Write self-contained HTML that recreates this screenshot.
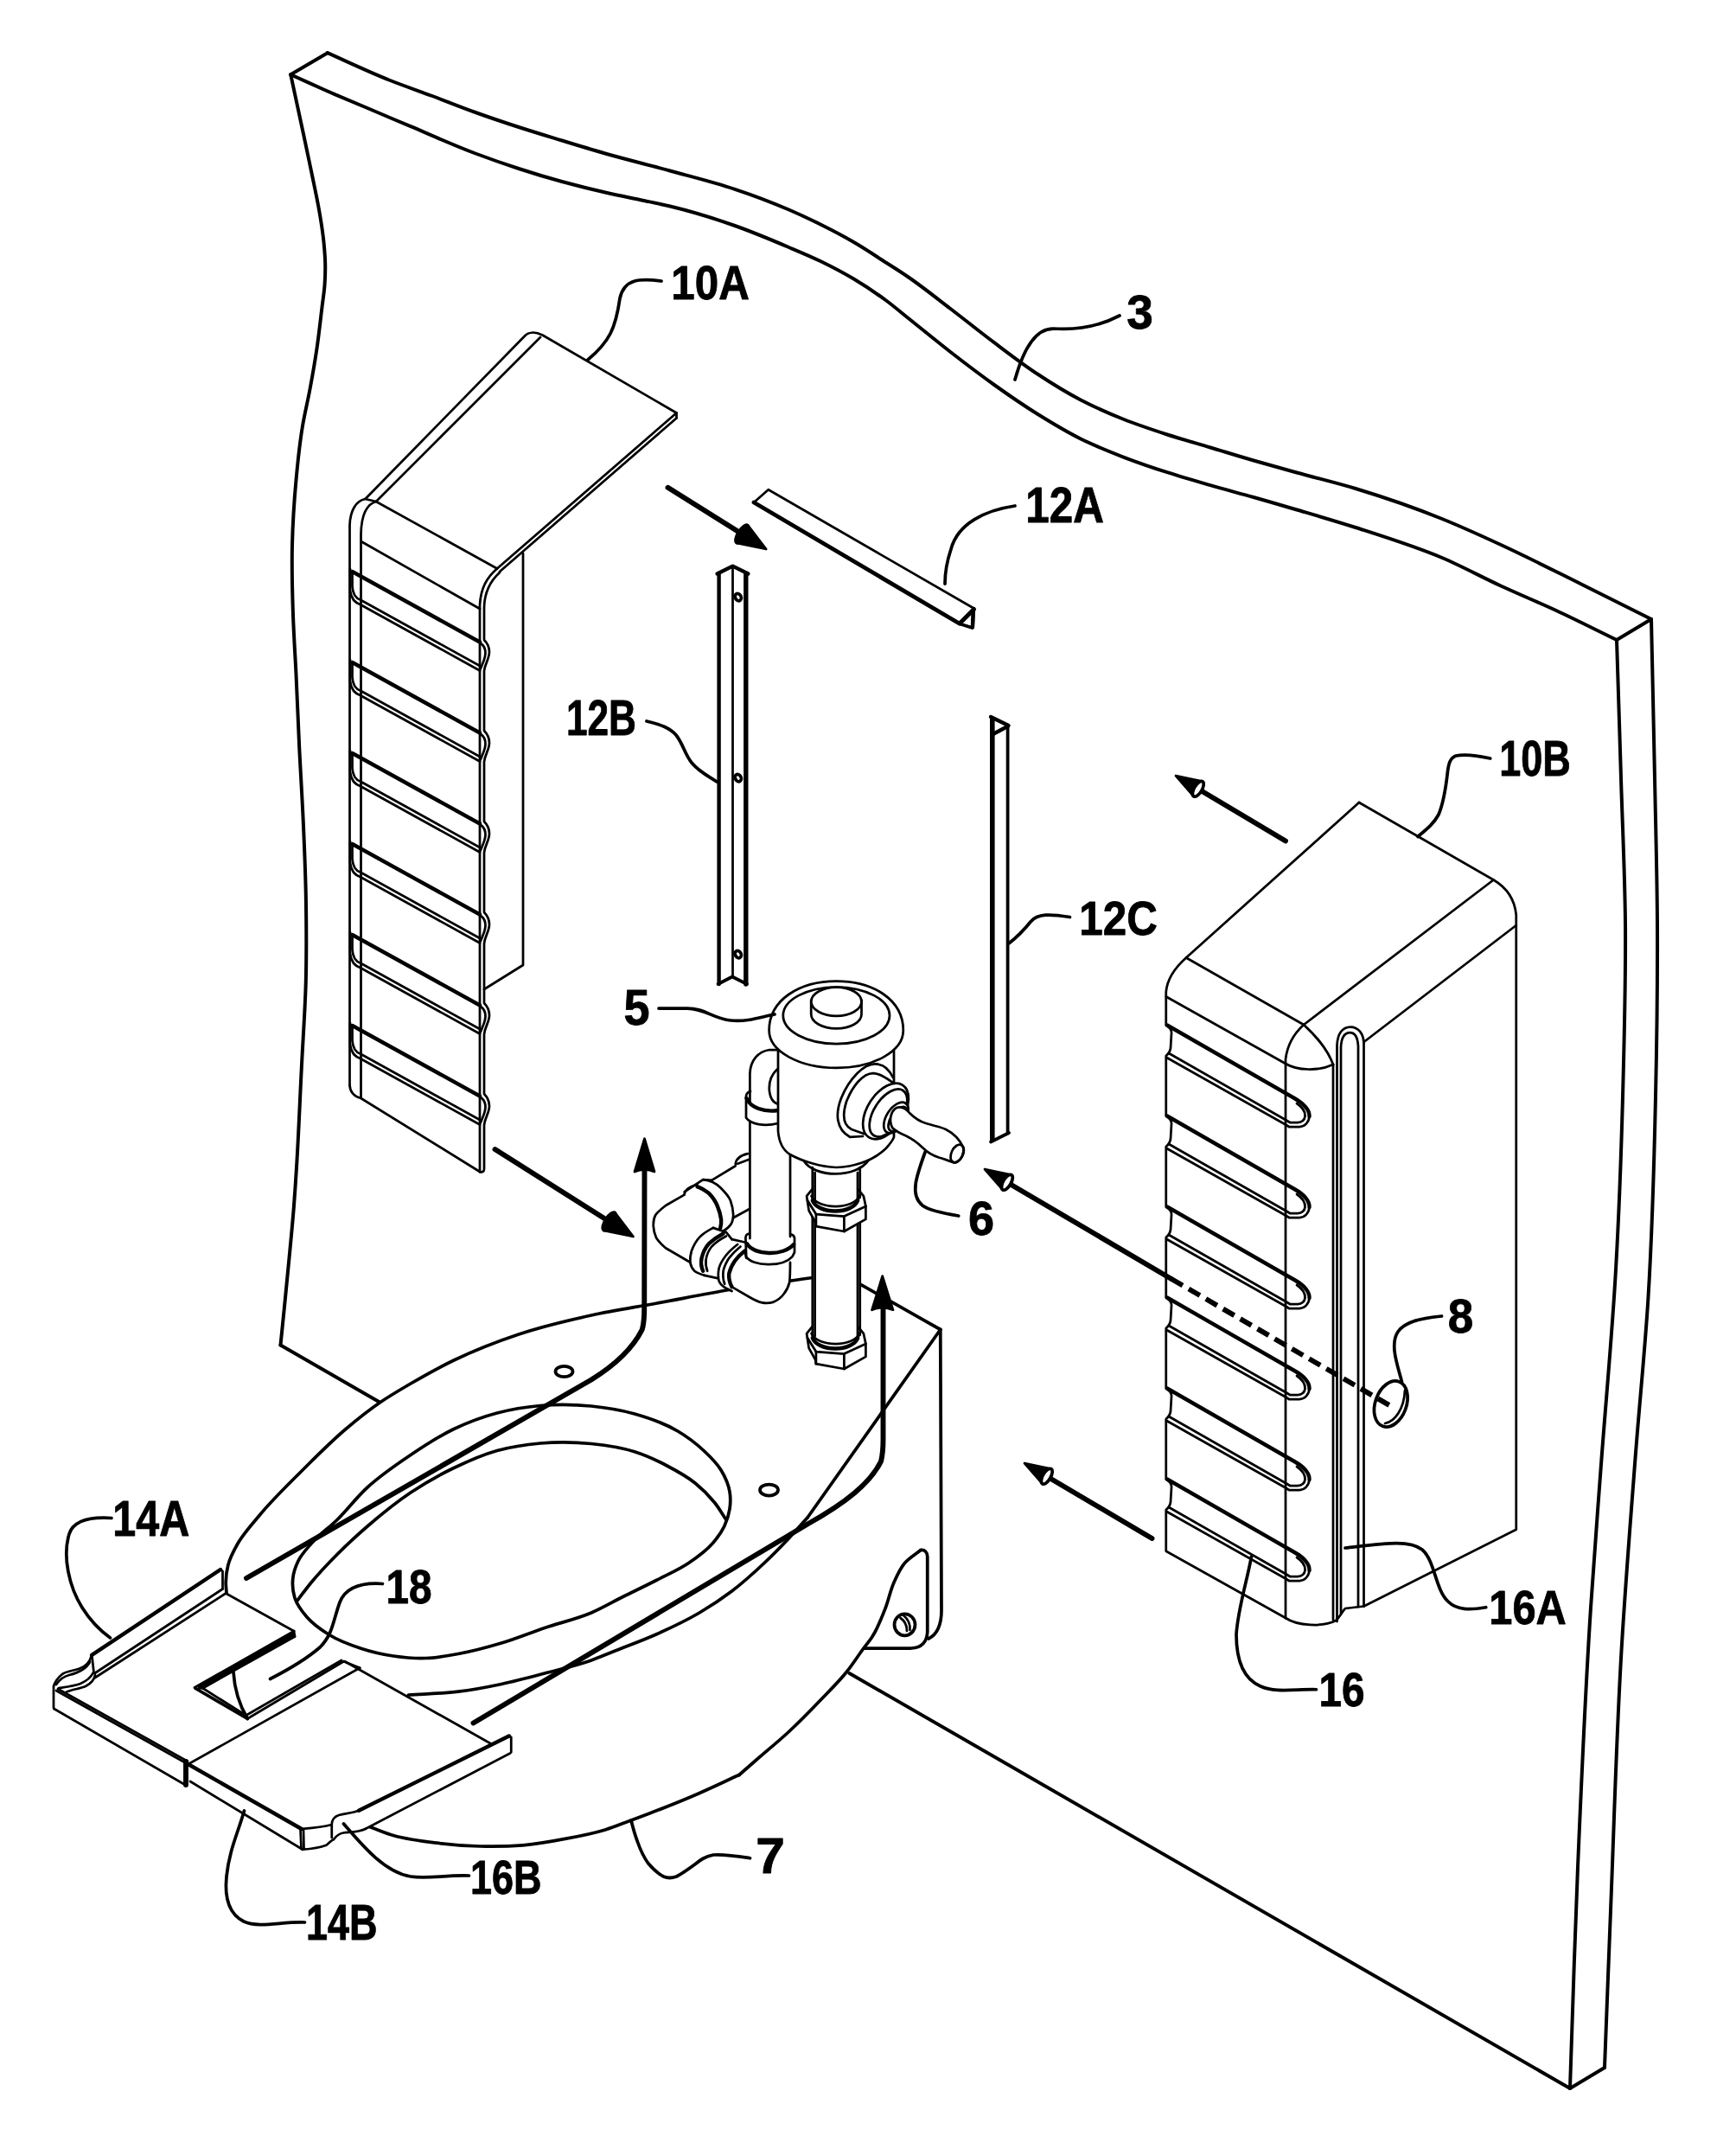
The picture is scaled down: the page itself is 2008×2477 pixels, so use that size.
<!DOCTYPE html>
<html lang="en">
<head>
<meta charset="utf-8">
<title>Figure</title>
<style>
html,body{margin:0;padding:0;background:#fff;}
body{width:2008px;height:2477px;overflow:hidden;}
svg{display:block;}
path,ellipse,line,polyline,polygon{fill:none;stroke:#000;stroke-linecap:round;stroke-linejoin:round;}
.t{stroke-width:2.75;}
.m{stroke-width:3.75;}
.w{stroke-width:4;}
.h{stroke-width:4.4;}
.k{stroke-width:5.9;}
.wf{fill:#fff;}
.bf{fill:#000;}
text{font-family:"Liberation Sans",sans-serif;font-weight:bold;fill:#000;stroke:#000;stroke-width:1.5;stroke-linejoin:round;}
</style>
</head>
<body>
<svg width="2008" height="2477" viewBox="0 0 2008 2477">
<g id="wall">
<path class="w" d="M336.2,86.2C341.2,109.2 346.1,132.1 351,155C354.5,171.7 358.1,188.3 361.5,205C364.1,217.5 366.8,229.9 369,242.5C371.2,254.9 373.2,267.4 374.5,280C375.3,288.3 376.1,296.7 376.2,305C376.4,313.3 376.1,321.7 375.5,330C374.9,338.4 373.5,346.7 372.5,355C370.5,371.7 368.7,388.4 366.2,405C364,420 361.3,435 358.5,450C355.9,464.2 352.4,478.3 350,492.5C346.5,513.2 344.4,534.1 342.5,555C340.2,579.9 338.6,605 338,630C337.4,655 338,680 338.8,705C339.5,730 341.3,755 342.5,780C343.8,808 344.9,836 346.2,864C347.8,896 349.9,928 351.2,960C352.3,985 353.3,1010 353.8,1035C354.4,1068.3 354.6,1101.7 353.8,1135C352.9,1168.4 350.4,1201.7 348.8,1235C346.8,1273.3 345.4,1311.7 343,1350C342.1,1364.7 341.1,1379.3 340,1394C338.3,1416 336.1,1438 334,1460C331,1491.8 327.7,1523.7 324.5,1555.5"/>
<path class="w" d="M324.5,1555.5 L440,1622"/>
<path class="w" d="M336.2,86.2C349.2,92.1 362,98 375,103.8C391.6,111 408.3,117.9 425,125C441.7,132.1 458.3,139.2 475,146.2C500,156.8 524.7,168 550,177.5C566.5,183.7 583.2,189.5 600,195C616.5,200.4 633.2,205.4 650,210C666.6,214.5 683.3,218.7 700,222.5C713.3,225.5 726.7,228.2 740,231C751.7,233.5 763.4,235.7 775,238.5C800.4,244.6 825.4,252.3 850,261C871.1,268.5 891.9,277.2 912.5,286C925.1,291.3 937.7,296.5 950,302.5C962.7,308.7 975.3,315.3 987.5,322.5C1000.4,330.2 1012.9,338.6 1025,347.5C1033.6,353.9 1041.7,360.8 1050,367.5C1066.7,380.8 1083.1,394.4 1100,407.5C1116.5,420.3 1133,432.9 1150,445C1166.4,456.7 1182.9,468.1 1200,478.8C1216.3,488.9 1232.8,499 1250,507.5C1266.2,515.5 1283.1,522.2 1300,528.8C1316.5,535.1 1333.2,540.8 1350,546.2C1366.5,551.6 1383.3,556.4 1400,561.2C1416.6,566 1433.4,570.3 1450,575C1466.7,579.7 1483.4,584.6 1500,589.5C1522.7,596.2 1545.5,602.8 1568,610C1601.6,620.8 1635.5,631.3 1668,645C1691.1,654.8 1713.2,667 1736,677.5C1757.2,687.3 1778.8,696.2 1800,706C1823.5,716.9 1846.7,728.7 1870,740"/>
<path class="w" d="M378.8,61.2C402.5,71.7 425.9,82.9 450,92.5C466.5,99.1 483.4,104.8 500,111C516.7,117.3 533.2,124 550,130C566.6,136 583.3,141.6 600,147C616.6,152.4 633.3,157.4 650,162.5C666.6,167.6 683.3,172.7 700,177.5C724.9,184.6 750.1,190.6 775,197.5C800.1,204.4 825.4,210.5 850,218.8C871.1,225.8 892.1,233.7 912.5,242.5C925.2,248 937.7,253.8 950,260C962.7,266.3 975.3,272.9 987.5,280C1000.3,287.4 1012.6,295.7 1025,303.8C1033.4,309.1 1041.8,314.4 1050,320C1067.2,331.7 1083.4,344.9 1100,357.5C1116.8,370.3 1133.1,383.6 1150,396.2C1166.5,408.6 1182.8,421.2 1200,432.5C1216.2,443.2 1232.8,453.5 1250,462.5C1266.2,470.9 1283,478.2 1300,485C1316.4,491.5 1333.2,497 1350,502.5C1366.5,507.9 1383.3,512.5 1400,517.5C1416.7,522.5 1433.3,527.7 1450,532.5C1466.6,537.3 1483.3,541.9 1500,546.5C1522.6,552.8 1545.5,558.2 1568,565C1601.8,575.2 1635.3,586.8 1668,600C1691,609.3 1713.5,619.6 1736,630C1767.7,644.6 1798.7,660.5 1830,676C1856.7,689.2 1883.3,702.7 1910,716"/>
<path class="w" d="M336.2,86.2 L378.8,61.2"/>
<path class="w" d="M1870,740 L1910,716"/>
<path class="w" d="M1870,740C1871.7,793.3 1873.4,846.7 1875,900C1876.7,956 1879.5,1012 1880,1068C1880.6,1134.7 1878.8,1201.4 1877,1268C1875.2,1334.7 1872.8,1401.4 1869,1468C1864.6,1545.4 1857.2,1622.7 1851.5,1700C1847.6,1753 1843.4,1806 1840,1859C1833.5,1958.9 1829.2,2059 1825,2159C1821.4,2244.3 1819,2329.7 1816,2415"/>
<path class="w" d="M1910,716C1911.3,777.3 1912.8,838.7 1914,900C1915.1,956 1916.7,1012 1917,1068C1917.3,1134.7 1916.5,1201.4 1915,1268C1913.3,1345.4 1911.2,1422.8 1906.5,1500C1902.8,1560.1 1896.6,1620 1892,1680C1886.1,1756.3 1880,1832.6 1875.5,1909C1869.6,2008.9 1867,2109 1863,2209C1860.6,2269.7 1858.3,2330.3 1856,2391"/>
<path class="w" d="M1816,2415 L1856,2391"/>
<path class="w" d="M1816,2415 L982.5,1935"/>
</g>
<g id="box10a">
<path class="t" d="M404.5,1255 L404.5,607.5 C405,590 412,579 422.5,577 L607.5,388 C611,384.5 618,383 627.5,387.5 L782.5,477.5 L782.5,483.5"/>
<path class="t" d="M404.5,1255 C405,1264 410,1268 417.5,1270 L555,1355"/>
<path class="t" d="M417.5,1269 L417.5,617.5 C418,596 424,583 435,580 L625,390"/>
<path class="t" d="M422.5,577 L435,580"/>
<path class="t" d="M435,580 L575,657.5"/>
<path class="t" d="M417.5,626 L555,704"/>
<path class="t" d="M782.5,477.5 L575,657.5"/>
<path class="t" d="M782.5,483.5 L578,661"/>
<path class="t" d="M575,657.5 C563,668 556,680 555,700 L555,1355"/>
<path class="t" d="M578,662 C567,672 560.5,684 560,702 L560,740 C563,743 566,748 566,754 C566,762 561,767 560,776 L560,845 C563,848 566,853 566,859 C566,867 561,872 560,881 L560,950 C563,953 566,958 566,964 C566,972 561,977 560,986 L560,1055 C563,1058 566,1063 566,1069 C566,1077 561,1082 560,1091 L560,1160 C563,1163 566,1168 566,1174 C566,1182 561,1187 560,1196 L560,1265 C563,1268 566,1273 566,1279 C566,1287 561,1292 560,1301 L560,1352 C560,1355 557,1356 555,1355"/>
<path class="t" d="M605,640 L605,1116 L560,1144"/>
<path class="h" d="M407.5,661 L555,742.5"/>
<path class="t" d="M407.5,661 L407.5,678 C408,687 411,692 417.5,694 L555,770"/>
<path class="t" d="M405,658 L405,683 C406,692 410,697 417.5,699.5 L555,775.5"/>
<path class="t" d="M556,744 C559,746 561.5,750 561.5,755 C561.5,762 558,767 556,773"/>
<path class="h" d="M407.5,766 L555,847.5"/>
<path class="t" d="M407.5,766 L407.5,783 C408,792 411,797 417.5,799 L555,875"/>
<path class="t" d="M405,763 L405,788 C406,797 410,802 417.5,804.5 L555,880.5"/>
<path class="t" d="M556,849 C559,851 561.5,855 561.5,860 C561.5,867 558,872 556,878"/>
<path class="h" d="M407.5,871 L555,952.5"/>
<path class="t" d="M407.5,871 L407.5,888 C408,897 411,902 417.5,904 L555,980"/>
<path class="t" d="M405,868 L405,893 C406,902 410,907 417.5,909.5 L555,985.5"/>
<path class="t" d="M556,954 C559,956 561.5,960 561.5,965 C561.5,972 558,977 556,983"/>
<path class="h" d="M407.5,976 L555,1057.5"/>
<path class="t" d="M407.5,976 L407.5,993 C408,1002 411,1007 417.5,1009 L555,1085"/>
<path class="t" d="M405,973 L405,998 C406,1007 410,1012 417.5,1014.5 L555,1090.5"/>
<path class="t" d="M556,1059 C559,1061 561.5,1065 561.5,1070 C561.5,1077 558,1082 556,1088"/>
<path class="h" d="M407.5,1081 L555,1162.5"/>
<path class="t" d="M407.5,1081 L407.5,1098 C408,1107 411,1112 417.5,1114 L555,1190"/>
<path class="t" d="M405,1078 L405,1103 C406,1112 410,1117 417.5,1119.5 L555,1195.5"/>
<path class="t" d="M556,1164 C559,1166 561.5,1170 561.5,1175 C561.5,1182 558,1187 556,1193"/>
<path class="h" d="M407.5,1186 L555,1267.5"/>
<path class="t" d="M407.5,1186 L407.5,1203 C408,1212 411,1217 417.5,1219 L555,1295"/>
<path class="t" d="M405,1183 L405,1208 C406,1217 410,1222 417.5,1224.5 L555,1300.5"/>
<path class="t" d="M556,1269 C559,1271 561.5,1275 561.5,1280 C561.5,1287 558,1292 556,1298"/>
</g>
<g id="box10b">
<path class="t" d="M1572,928 L1372,1107.5 C1358,1120 1350,1132 1348.75,1147 L1348.75,1185.5 C1353,1188 1355.5,1191 1355,1195 L1354,1212 C1353.5,1216 1351,1219 1348.75,1221 L1348.75,1290.5 C1353,1293 1355.5,1296 1355,1300 L1354,1317 C1353.5,1321 1351,1324 1348.75,1326 L1348.75,1395.5 C1353,1398 1355.5,1401 1355,1405 L1354,1422 C1353.5,1426 1351,1429 1348.75,1431 L1348.75,1500.5 C1353,1503 1355.5,1506 1355,1510 L1354,1527 C1353.5,1531 1351,1534 1348.75,1536 L1348.75,1605.5 C1353,1608 1355.5,1611 1355,1615 L1354,1632 C1353.5,1636 1351,1639 1348.75,1641 L1348.75,1710.5 C1353,1713 1355.5,1716 1355,1720 L1354,1737 C1353.5,1741 1351,1744 1348.75,1746 L1348.75,1793.75 L1487,1871"/>
<path class="t" d="M1572,928 L1727.5,1017.5 C1742,1026 1752,1040 1753.75,1058 L1753.75,1768.75 L1577.5,1857.5"/>
<path class="t" d="M1372,1107.5 L1508,1185"/>
<path class="t" d="M1508,1185 L1727.5,1017.5"/>
<path class="t" d="M1348.8,1152.5 L1487,1230"/>
<path class="t" d="M1508,1185 C1497,1195 1489,1208 1487,1225 L1487,1871"/>
<path class="t" d="M1508,1185 C1522,1198 1535,1212 1542,1231"/>
<path class="t" d="M1487,1230 C1500,1238 1525,1239 1542,1231"/>
<path class="t" d="M1542,1231 L1542,1873"/>
<path class="t" d="M1546.5,1875 L1546.5,1209 C1547,1195 1553,1187.5 1562,1187.5 C1571,1187.5 1577,1195 1577.5,1206 L1577.5,1857.5"/>
<path class="t" d="M1551,1866 L1551,1211 C1551.5,1200 1555,1194 1561.5,1194 C1568,1194 1570.5,1200 1571,1210 L1571,1858"/>
<path class="t" d="M1577.5,1205 L1753.8,1070"/>
<path class="t" d="M1487,1871 C1500,1880 1530,1882 1545,1874 C1550,1870 1552,1864 1556,1860 L1577.5,1857.5"/>
<path class="h" d="M1350,1185.5 L1498,1270.5 C1508,1276 1515,1284 1514.5,1291"/>
<path class="t" d="M1514.5,1291 C1514,1298 1509,1303 1503,1303 L1491,1303 L1487,1300.5 L1349.5,1223"/>
<path class="t" d="M1500,1276 C1506,1280 1510,1285 1509.5,1291 C1509,1295 1506,1298 1501,1298 L1492,1298 L1487,1295 L1352,1218"/>
<path class="h" d="M1350,1290.5 L1498,1375.5 C1508,1381 1515,1389 1514.5,1396"/>
<path class="t" d="M1514.5,1396 C1514,1403 1509,1408 1503,1408 L1491,1408 L1487,1405.5 L1349.5,1328"/>
<path class="t" d="M1500,1381 C1506,1385 1510,1390 1509.5,1396 C1509,1400 1506,1403 1501,1403 L1492,1403 L1487,1400 L1352,1323"/>
<path class="h" d="M1350,1395.5 L1498,1480.5 C1508,1486 1515,1494 1514.5,1501"/>
<path class="t" d="M1514.5,1501 C1514,1508 1509,1513 1503,1513 L1491,1513 L1487,1510.5 L1349.5,1433"/>
<path class="t" d="M1500,1486 C1506,1490 1510,1495 1509.5,1501 C1509,1505 1506,1508 1501,1508 L1492,1508 L1487,1505 L1352,1428"/>
<path class="h" d="M1350,1500.5 L1498,1585.5 C1508,1591 1515,1599 1514.5,1606"/>
<path class="t" d="M1514.5,1606 C1514,1613 1509,1618 1503,1618 L1491,1618 L1487,1615.5 L1349.5,1538"/>
<path class="t" d="M1500,1591 C1506,1595 1510,1600 1509.5,1606 C1509,1610 1506,1613 1501,1613 L1492,1613 L1487,1610 L1352,1533"/>
<path class="h" d="M1350,1605.5 L1498,1690.5 C1508,1696 1515,1704 1514.5,1711"/>
<path class="t" d="M1514.5,1711 C1514,1718 1509,1723 1503,1723 L1491,1723 L1487,1720.5 L1349.5,1643"/>
<path class="t" d="M1500,1696 C1506,1700 1510,1705 1509.5,1711 C1509,1715 1506,1718 1501,1718 L1492,1718 L1487,1715 L1352,1638"/>
<path class="h" d="M1350,1710.5 L1498,1795.5 C1508,1801 1515,1809 1514.5,1816"/>
<path class="t" d="M1514.5,1816 C1514,1823 1509,1828 1503,1828 L1491,1828 L1487,1825.5 L1349.5,1748"/>
<path class="t" d="M1500,1801 C1506,1805 1510,1810 1509.5,1816 C1509,1820 1506,1823 1501,1823 L1492,1823 L1487,1820 L1352,1743"/>
<ellipse class="m" cx="1608.8" cy="1623.5" rx="18" ry="27.5" transform="rotate(20 1608.8 1623.5)"/>
<path class="t" d="M1602,1646 C1613,1644 1624,1630 1625,1608"/>
</g>
<g id="bars">
<path class="t" d="M872,581 L888.75,566.25 L1126.9,703.75 L1125.5,726 L1110,721.25"/>
<path class="k" d="M872,581 L1110,721.25" style="stroke-width:4.8"/>
<path class="k" d="M1126.5,704.5 L1110.5,720.5" style="stroke-width:5"/>
<path class="h" d="M1125.5,708 L1125,725"/>
<path class="m" d="M1112,722 L1124.5,726"/>
<path class="h" d="M829.6,663.5 L847.5,654.6 L865.4,663.5"/>
<path class="h" d="M831.6,664 L831.6,1138"/>
<path class="t" d="M847.5,656 L847.5,1129.5"/>
<path class="k" d="M862.8,664 L862.8,1138" style="stroke-width:5.4"/>
<path class="m" d="M830.5,1138 L847,1129.5 L864,1138"/>
<ellipse class="m" cx="853.8" cy="690.6" rx="3.4" ry="4.4" transform="rotate(-30 853.8 690.6)"/>
<ellipse class="m" cx="853.8" cy="899.6" rx="3.4" ry="4.4" transform="rotate(-30 853.8 899.6)"/>
<ellipse class="m" cx="853.8" cy="1103.6" rx="3.4" ry="4.4" transform="rotate(-30 853.8 1103.6)"/>
<path class="k" d="M1147.8,829 L1147.8,1320" style="stroke-width:5.6;stroke-linecap:butt"/>
<path class="m" d="M1165.6,838.75 L1165.6,1310.5"/>
<path class="h" d="M1146,829 L1166.5,839"/>
<path class="h" d="M1165.5,840 L1148.5,849"/>
<path class="m" d="M1146,1320.5 L1167,1310"/>
</g>
<g id="arrows">
<path class="k" d="M772.5,563.8 L858.3,617.5"/>
<path class="bf t" d="M886.2,635L851.8,627.9L864.8,607.1Z"/>
<ellipse class="bf t" cx="858.3" cy="617.5" rx="5" ry="12.3" transform="rotate(32.1 858.3 617.5)"/>
<path class="k" d="M572.5,1329 L704.6,1412.4"/>
<path class="bf t" d="M732.5,1430L698,1422.8L711.2,1402Z"/>
<ellipse class="bf t" cx="704.6" cy="1412.4" rx="5" ry="12.3" transform="rotate(32.3 704.6 1412.4)"/>
<path class="k" d="M1487,972.5 L1385.8,912.3"/>
<path class="bf t" d="M1360,897L1390.9,903.7L1380.7,920.9Z"/>
<ellipse class="m wf" cx="1385.8" cy="912.3" rx="4.5" ry="10" transform="rotate(-149.3 1385.8 912.3)"/>
<path class="k" d="M1332.5,1779 L1210.8,1707.2"/>
<path class="bf t" d="M1185,1692L1215.9,1698.6L1205.8,1715.9Z"/>
<ellipse class="m wf" cx="1210.8" cy="1707.2" rx="4.5" ry="10" transform="rotate(-149.5 1210.8 1707.2)"/>
<path class="k" d="M1355,1479 L1164.9,1367.2"/>
<path class="bf t" d="M1139,1352L1169.9,1358.6L1159.8,1375.8Z"/>
<ellipse class="m wf" cx="1164.9" cy="1367.2" rx="4.5" ry="10" transform="rotate(-149.5 1164.9 1367.2)"/>
<path class="k" d="M1355,1479 L1607,1625" stroke-dasharray="15 8" style="stroke-linecap:butt"/>
</g>
<g id="toilet">
<path class="m" d="M1065,1792.5C1058.8,1797.5 1051.6,1801.6 1046.5,1807.5C1041,1813.9 1037.5,1822.2 1034,1830C1029.7,1839.6 1027.8,1850.2 1024,1860C1019.7,1871.1 1015.4,1882.5 1009,1892.5C1005.6,1897.9 1001.3,1902.8 997.5,1908C991.6,1916.1 986.2,1924.7 980,1932.5C970.9,1944 960.2,1954.4 950,1965C937.8,1977.8 925.4,1990.5 912.5,2002.5C900.4,2013.8 887.5,2024.1 875,2035C868.3,2040.8 861.7,2046.7 855,2052.5"/>
<path class="m" d="M855,2052.5C836.7,2060.8 818.5,2069.6 800,2077.5C783.5,2084.5 766.8,2091.1 750,2097.5C743.3,2100 736.7,2102.5 730,2105C720,2108.7 710.2,2112.9 700,2116C685.3,2120.5 670.1,2123.4 655,2126.2C638.5,2129.4 621.8,2132.3 605,2133.8C588.4,2135.2 571.6,2135.4 555,2135C538.3,2134.6 521.6,2133.3 505,2131.2C488.2,2129.2 471.2,2127.2 455,2122.5C445.7,2119.8 436.7,2115.8 427.5,2112.5"/>
<path class="m" d="M1087.75,1537.5 L1089,1862 C1089,1880 1084,1890 1074,1895"/>
<path class="m" d="M1065,1792.5 C1070,1792 1072.5,1795 1072.75,1800 L1072.75,1887.5 C1072,1899 1066,1905.5 1054,1906 L1000,1906"/>
<ellipse class="m" cx="1046.5" cy="1878.8" rx="12" ry="12.5"/>
<path class="t" d="M1041.5,1871 C1046,1874 1049,1880 1049,1886"/>
<path class="t" d="M1045,1868 C1050,1872 1053,1878 1052.5,1885"/>
</g>
<g id="seat">
<path class="t wf" d="M973,1471 L1087.75,1537.5 L934,1755 L884,1807.5 L809,1865 L709,1910 L580,1947.5 L472.5,1960 L330,1930 L262,1842.5 L275,1785 L350,1700 L440,1621 L562.5,1560 L684,1521 L846.5,1491 Z" style="stroke:none"/>
<path class="m" d="M940,1477.5C908.8,1482 877.6,1485.9 846.5,1491C817.6,1495.8 788.8,1501.7 760,1507C734.7,1511.7 709.1,1515.5 684,1521C655.8,1527.2 627.4,1533.9 600,1543C574.5,1551.5 549.2,1561.4 525,1573C508,1581.2 491.4,1590.5 475,1600C463.2,1606.9 451.3,1613.8 440,1621.5C426.1,1631 412.9,1641.6 400,1652.5C382.5,1667.3 366.3,1683.8 350,1700C332.9,1717.1 315.4,1733.9 300,1752.5C291.3,1763 281.7,1773.2 275,1785C270.5,1792.9 266,1801.2 263.8,1810C262.1,1816.4 261.3,1823.3 261.2,1830C261.2,1834.2 261.8,1838.3 262,1842.5"/>
<path class="m" d="M992.8,1483.8 L1087.8,1537.5"/>
<path class="m" d="M1087.75,1537.5 L934,1755"/>
<path class="m" d="M934,1755C925.7,1764.2 917.6,1773.5 909,1782.5C900.9,1791 892.6,1799.4 884,1807.5C872,1818.8 859.7,1830 846.5,1840C834.5,1849.1 821.9,1857.4 809,1865C793,1874.4 776,1882.4 759,1890C742.6,1897.3 725.7,1903.3 709,1910C700.7,1913.3 692.4,1917 684,1920C666.4,1926.3 648.1,1930.2 630,1935C613.4,1939.4 596.8,1943.9 580,1947.5C563.5,1951 546.8,1954.2 530,1956.2C511,1958.6 491.7,1958.8 472.5,1960"/>
<path class="m" d="M338.8,1825C339.5,1818.2 342,1811.2 345,1805C348.6,1797.6 354.6,1791.3 360,1785C368.8,1774.8 380.3,1767 390,1757.5C402.2,1745.5 412.4,1731.5 425,1720C440.3,1706 457.7,1694.1 475,1682.5C491.1,1671.7 507.5,1660.8 525,1652.5C541,1644.9 557.9,1638.5 575,1634C591.3,1629.7 608.2,1627 625,1625.5C644.5,1623.8 664.5,1624.1 684,1626C700.8,1627.7 717.8,1630.4 734,1635C751.2,1639.9 768.7,1645.9 784,1655C794.7,1661.3 804.9,1669 814,1677.5C821.3,1684.3 828.9,1691.5 834,1700C838.6,1707.6 842.6,1716.3 844,1725C845.1,1731.5 845,1738.5 844,1745C843,1751.8 840.7,1758.8 837.8,1765C834.3,1772.2 829.3,1779 824,1785C816.3,1793.8 806.3,1800.9 796.5,1807.5C784.8,1815.4 771.6,1821 759,1827.5C746.6,1833.9 734,1839.8 721.5,1846C709,1852.3 696.9,1859.5 684,1865C666.6,1872.4 647.9,1876.5 630,1882.5C613.3,1888.1 596.9,1895 580,1900C563.6,1904.9 546.9,1909.4 530,1912.5C517.6,1914.8 505,1917.1 492.5,1917.5C480,1917.9 467.4,1916.8 455,1915C442.3,1913.1 429.6,1910.2 417.5,1906.2C404.6,1902 391.5,1897.2 380,1890C371,1884.4 361.9,1878 355,1870C349.4,1863.5 343.6,1856 341,1848C338.7,1840.9 337.9,1832.5 338.8,1825Z"/>
<path class="m" d="M343.8,1851C349.2,1844 354.4,1836.8 360,1830C369.4,1818.7 379.6,1807.9 390,1797.5C401.2,1786.2 413,1775.4 425,1765C441,1751.2 457.4,1737.7 475,1726C490.9,1715.4 507.7,1705.8 525,1697.5C541.1,1689.8 557.8,1682.3 575,1677.5C591.2,1673 608.2,1670.5 625,1669C644.5,1667.3 664.5,1667.5 684,1669.5C700.8,1671.2 718,1673.6 734,1678.8C746.9,1682.9 759.5,1688.7 771.5,1695C782.7,1700.9 794.2,1707.1 804,1715C812.2,1721.6 819.9,1729.3 826.5,1737.5C831.5,1743.7 835.5,1750.8 840,1757.5"/>
<ellipse class="m" cx="652.5" cy="1586" rx="10" ry="6.2"/>
<ellipse class="m" cx="889.5" cy="1723" rx="10.5" ry="6.5"/>
</g>
<g id="pipes">
<path class="wf" d="M867,1334 L855,1337 L850.7,1348.3 L823.2,1364.9 L813.2,1364.1 L791.6,1378.3 L770,1394.1 L758.3,1404.9 L755.8,1418.2 L759.1,1431.5 L770,1443.2 L798.3,1459.8 L803.3,1469.8 L814.9,1474.8 L829.9,1478.1 L831.6,1481.5 L839.9,1489.8 L846.5,1493.1 L866.5,1499.8 L881.5,1506.4 L894.8,1505.6 L906.5,1496.5 L913.1,1483.1 L914,1459.8 L919,1448.2 L919,1431.5 L914,1428 L914,1334 Z" style="stroke:none"/>
<path class="t" d="M823.2,1364.9 L850.7,1348.3"/>
<path class="t" d="M850.7,1346 C851.5,1340 856,1336 864.9,1334.1"/>
<path class="t" d="M853.2,1345.8 L866.5,1340.8"/>
<path class="t" d="M848.2,1408.2 L866.5,1398.2"/>
<path class="t" d="M791.6,1378.3 L813.2,1364.1 L823.2,1364.9"/>
<path class="t" d="M813.2,1364.1 C822,1365 829,1369 833.2,1373.3 C839,1379 843,1384 844.9,1388.2 C847,1394 848,1399 848.2,1404.9 C848,1410 847,1414 844.9,1416.5 C842,1420 840,1422 836.6,1423.2"/>
<path class="h" d="M806.6,1372.4 C812,1374 816,1377 819.9,1379.9 C825,1385 828,1390 829.9,1394.9 C832,1400 833.5,1405 834.1,1409.9 C834.5,1414 834,1417 833.2,1419.9"/>
<path class="t" d="M791.6,1381 C792,1378 793,1376.5 795,1375 C799,1372 803,1370.5 806.6,1370"/>
<path class="t" d="M791.6,1381.6 C784,1386 777,1390 770,1394.1 C765,1398 761,1401 758.3,1404.9 C756,1409 755.5,1413 755.8,1418.2 C756,1423 757,1427 759.1,1431.5 C762,1436 765,1439 770,1443.2 L798.3,1459.8"/>
<path class="t" d="M824.9,1419.9 C819,1423 814,1426 809.9,1429.9 C805,1435 802,1441 799.9,1446.5 C798.5,1451 798,1455 798.3,1459.8 C799,1464 800.5,1467 803.3,1469.8 C806,1472 810,1473.5 814.9,1474.8"/>
<path class="h" d="M836.6,1426.5 C830,1430 824.5,1434 819.9,1438.2 C815.5,1443 813,1449 811.6,1454.8 C810.5,1460 811,1465 813.2,1469.8"/>
<path class="t" d="M839.9,1429.5 C833,1433 827,1437.5 823.2,1441.5 C819.5,1446 817.5,1451 816.6,1456.5 C816,1461 816.5,1465.5 818.2,1469.8"/>
<path class="t" d="M824.9,1419.9 L839.9,1424.9 L846.5,1433.2"/>
<path class="t" d="M846.5,1433.2 L861.5,1436.5"/>
<path class="t" d="M814.9,1474.8 L829.9,1478.1"/>
<path class="t" d="M853.2,1439 C848,1443 843.5,1447 839.9,1451.5 C836,1456.5 833,1461.5 831.6,1466.5 C830.5,1472 830.5,1477 831.6,1481.5 C833.5,1485.5 836.5,1488 839.9,1489.8 L846.5,1493.1"/>
<path class="h" d="M861.5,1446.5 C857,1450 853,1454 849.9,1458.2 C846.5,1463 844.3,1468 843.2,1473.1 C842.8,1478.5 844,1483.5 846.5,1488.1"/>
<path class="t" d="M856.5,1441.5 C851,1446 846.5,1450.5 843.2,1454.8 C840,1460 837.5,1465 836.6,1469.8 C836,1475.5 836.5,1480.5 838.2,1484.8"/>
<path class="t" d="M846.5,1488.1 L866.5,1499.8 C872,1503 877,1505.5 881.5,1506.4 C886,1507.3 890.5,1507 894.8,1505.6 C899.5,1503.5 903.5,1500.5 906.5,1496.5 C910,1492 912,1488 913.1,1483.1 C914,1476 914,1468 914,1459.8"/>
<path class="t" d="M861.5,1446.5 L863.2,1454.8"/>
<path class="wf" d="M867.4,1432 L867.4,1241 C868,1226 877,1216 890,1214 L901,1214 L901,1334 L914,1334 L914,1432 Z" style="stroke:none"/>
<path class="t" d="M867.4,1432 L867.4,1241.5 C868,1226 877,1216 890,1214 L900,1214"/>
<path class="t" d="M914,1336 L914,1430"/>
<path class="t" d="M899,1236.5 C892,1243 889,1252 890,1262 C891,1270 895,1275 899,1276.5"/>
<path class="wf" d="M863,1267.5 L863,1292.5 C868,1300 884,1303 900,1299 L900,1284 C884,1286.5 868,1281 863,1267.5 Z" style="stroke:none"/>
<path class="t" d="M868,1262 C865.5,1262.5 863.5,1264 863,1267.5 L863,1292.5 C868,1300 884,1303 900,1299"/>
<path class="h" d="M863.5,1270 C868,1281 884,1286.5 900,1284"/>
<path class="wf" d="M862.4,1431.5 L863.2,1453.2 C870,1464 905,1466 916.5,1453.2 L919,1448.2 L919,1431.5 C905,1445 875,1446 862.4,1431.5 Z" style="stroke:none"/>
<path class="t" d="M866.5,1426.5 C864,1427 862.5,1428.5 862.4,1431.5 L863.2,1453.2 C870,1464.5 905,1466 916.5,1453.2 L919,1448.2 L919,1431.5 C918.5,1429 917,1427.8 914.8,1427.4"/>
<path class="h" d="M864,1438.2 C872,1452 906,1453 918.1,1439"/>
<path class="wf" d="M939.8,1350 L939.8,1585 L994.7,1585 L994.7,1350 Z" style="stroke:none"/>
<path class="t" d="M939.8,1350 L939.8,1545"/>
<path class="t" d="M994.7,1350 L994.7,1545"/>
<path class="t" d="M942.6,1356 L942.6,1545"/>
<path class="t" d="M992,1356 L992,1545"/>
<path class="wf" d="M933.1,1384.1 L935.6,1399.9 L943.1,1413.2 L943.9,1418.2 L976.4,1424 L1001.4,1409.9 L1001.4,1394.9 L998.9,1383.2 L992.2,1388.2 C984,1405 950,1405 939.8,1388.2 Z" style="stroke:none"/>
<path class="t" d="M938.9,1375.8 L933.1,1383.2 L935.6,1399.9 L943.1,1413.2 L943.9,1418.2 L976.4,1424 L1001.4,1409.9 L1001.4,1394.9 L998.9,1383.2 L993,1375.8"/>
<path class="t" d="M934,1388.2 L943.9,1404.1 L976.4,1406.6 L1001.4,1394.9"/>
<path class="t" d="M943.9,1404.1 L943.9,1418.2"/>
<path class="t" d="M976.4,1406.6 L976.4,1424"/>
<path class="h" d="M939.8,1388.2 C946,1404.5 986,1404.5 992.2,1388.2"/>
<path class="t" d="M938.5,1383 C945,1399 988,1399 994,1383"/>
<path class="wf" d="M933.1,1543.1 L935.6,1558.9 L943.1,1572.2 L943.9,1577.2 L976.4,1583 L1001.4,1568.9 L1001.4,1553.9 L998.9,1542.2 L992.2,1547.2 C984,1564 950,1564 939.8,1547.2 Z" style="stroke:none"/>
<path class="t" d="M938.9,1534.8 L933.1,1542.2 L935.6,1558.9 L943.1,1572.2 L943.9,1577.2 L976.4,1583 L1001.4,1568.9 L1001.4,1553.9 L998.9,1542.2 L993,1534.8"/>
<path class="t" d="M934,1547.2 L943.9,1563.1 L976.4,1565.6 L1001.4,1553.9"/>
<path class="t" d="M943.9,1563.1 L943.9,1577.2"/>
<path class="t" d="M976.4,1565.6 L976.4,1583"/>
<path class="h" d="M939.8,1547.2 C946,1563.5 986,1563.5 992.2,1547.2"/>
<path class="t" d="M938.5,1542 C945,1558 988,1558 994,1542"/>
<path class="t wf" d="M900,1215 L900,1308 C901,1320 906,1330 913.3,1334.7 C928,1343 950,1349.5 967.4,1350 C985,1349.5 1008,1344 1024.8,1328 C1030,1322 1033,1318 1034,1314.8 L1034,1215 Z"/>
<path class="t" d="M929.8,1342.5 C942,1362 990,1363 1004.7,1341.6"/>
<path class="t wf" d="M889.6,1191.6 C889.6,1156 925,1134.6 967.4,1134.6 C1010,1134.6 1044.8,1156 1044.8,1191.6 C1044.8,1216 1010,1234.9 967.4,1234.9 C925,1234.9 889.6,1216 889.6,1191.6 Z"/>
<ellipse class="t" cx="967.4" cy="1174.3" rx="61.6" ry="32.8"/>
<path class="t wf" d="M938.2,1156.6 L938.2,1172.8 C938.2,1182 951,1189.4 967.4,1189.4 C984,1189.4 996.5,1182 996.5,1172.8 L996.5,1156.6 Z"/>
<ellipse class="t wf" cx="967.4" cy="1158.3" rx="29.1" ry="16.6"/>
<path class="t" d="M1014.8,1230.7 C1000,1228 982,1248 973,1270 C966,1288 967,1306 983,1314.8 L998,1314 "/>
<path class="t" d="M1014.8,1230.7 C1022,1231 1028,1236 1033,1246"/>
<path class="t" d="M1010,1241 C998,1241 986,1256 979,1274 C974,1290 975,1301 985,1306 L999,1311"/>
<path class="t" d="M1010,1241 C1018,1241 1027,1248 1033,1252"/>
<ellipse class="t wf" cx="1024.5" cy="1285" rx="21" ry="36" transform="rotate(33 1024.5 1285)"/>
<ellipse class="t" cx="1027.5" cy="1287" rx="16.5" ry="31" transform="rotate(33 1027.5 1287)"/>
<ellipse class="t wf" cx="1036.5" cy="1292.5" rx="11" ry="20" transform="rotate(33 1036.5 1292.5)"/>
<ellipse class="t" cx="1038.5" cy="1294" rx="8" ry="16" transform="rotate(33 1038.5 1294)"/>
<path class="t wf" d="M1037,1281 C1043,1279 1048,1282 1052,1287 C1058,1293 1064,1297 1071,1299 C1080,1302 1088,1303 1094,1306 C1102,1310 1110,1318 1114.5,1327 C1116,1334 1112,1342 1105,1344.5 C1098,1343 1092,1340 1086,1338.5 C1078,1336 1072,1332 1067,1327 C1061,1321 1055,1317 1048,1313.5 C1042,1311 1036,1308 1032,1304 C1028,1296 1030,1285 1037,1281 Z"/>
<ellipse class="t" cx="1107" cy="1334" rx="6.5" ry="11" transform="rotate(25 1107 1334)"/>
</g>
<g id="tray">
<path class="t wf" d="M106,1914 L255,1815 L257.5,1837.5 L261.25,1842.5 L340,1886.25 L398.75,1921.25 L567.5,2016.25 L588.75,2007.5 L591.25,2026.25 L422.5,2115 L386,2130 L350,2138.75 L213.75,2063.75 L62.5,1976 L62,1950 L76,1933.75 L97.5,1927.5 Z" style="stroke:none"/>
<path class="h" d="M106.2,1913.8 L255,1815"/>
<path class="t" d="M255,1815 L257.5,1817 L257.5,1837.5"/>
<path class="t" d="M109.5,1935 L257.5,1837.5"/>
<path class="t" d="M110,1940 L261.2,1842.5"/>
<path class="t" d="M106.25,1913.75 L108.5,1934"/>
<path class="t" d="M106,1914 C104,1922 99,1927 92,1929.5 C83,1932.5 77,1932.5 72,1936 C67,1940 63.5,1945 62,1950 L62,1975 L62.5,1976"/>
<path class="t" d="M65,1948 C69,1942 74,1938.5 80,1937 C90,1934.5 99,1931 104,1922"/>
<path class="t" d="M77,1956.5 C84,1953.5 92,1953 99,1950 C105,1947 109,1943 110,1937"/>
<path class="t" d="M68,1952 C75,1951 85,1950 93,1947 C100,1944 105,1940 108,1934"/>
<path class="t" d="M65,1955 L215,2038.8"/>
<path class="t" d="M67,1953 L217,2036.8"/>
<path class="t" d="M62.5,1976 L213.8,2063.8"/>
<path class="k" d="M215,2037 L215,2064"/>
<path class="h" d="M217.5,2040 L348.8,2115"/>
<path class="t" d="M220,2060 L350,2138.8"/>
<path class="t" d="M347.5,2115 L348.5,2138"/>
<path class="t" d="M351,2115.5 L351.5,2138.5"/>
<path class="t" d="M348.75,2115 C360,2114 372,2113 383.75,2110 L383.75,2125"/>
<path class="t" d="M350,2138.75 C360,2138 370,2136.5 377.5,2133.75 C381,2131 383,2128 386,2127"/>
<path class="t" d="M383.75,2110 C384,2104 387,2100.5 392,2099 C400,2097 408,2096.5 415,2093.75"/>
<path class="t" d="M386,2127 C389,2123 392,2120.5 397,2119.5 C405,2118.5 414,2119 422.5,2115"/>
<path class="h" d="M415,2093.8 L588.8,2007.5"/>
<path class="t" d="M588.75,2007.5 L591.25,2009 L591.25,2026.25"/>
<path class="t" d="M590,2027.5 L422.5,2115"/>
<path class="t" d="M261.2,1842.5 L340,1886.2"/>
<path class="t" d="M340,1886.25 L341,1892.5"/>
<path class="t" d="M398.8,1921.2 L567.5,2016.2"/>
<path class="t" d="M340,1886.2 L225,1951.5"/>
<path class="t" d="M341,1892.5 L234,1952.5"/>
<path class="k" d="M340.5,1889.5 L229,1952" style="stroke-width:5.6;stroke-linecap:butt"/>
<path class="m" d="M226.25,1952.5 L286.25,1987.5"/>
<path class="t" d="M235,1952.5 L282.5,1982.5"/>
<path class="t" d="M286.2,1987.5 L397.5,1921.2"/>
<path class="t" d="M284,1984 L395,1920"/>
<path class="t" d="M397.5,1921.25 L416.25,1928.75"/>
<path class="t" d="M416.2,1928.8 L220,2038.8"/>
<path class="m" d="M270,1933.75 C271,1950 276,1970 286.25,1987.5"/>
</g>
<g id="thickarrows">
<path class="k" d="M285,1825 L684,1595.5 C709,1580 731.5,1560 742.75,1537.5 C745,1530 745.25,1522 745.25,1512.5 L745.5,1350"/>
<path class="bf t" d="M745.5,1316.7 L757,1355 C750,1352 741,1352 734,1355 Z"/>
<path class="k" d="M547.5,1992.5 L909,1777.5 L934,1762.5 C979,1737.5 1006.5,1715 1019,1690 C1021,1682 1021.5,1675 1021.5,1665 L1021.5,1510"/>
<path class="bf t" d="M1020.7,1475.6 L1033,1514.8 C1025,1511.5 1016,1511.5 1008.5,1514.8 Z"/>
</g>
<g id="labels">
<text transform="translate(776.3,345.7) scale(0.4936,0.5634)" font-size="100">10A</text>
<text transform="translate(1303.2,380.4) scale(0.5500,0.5634)" font-size="100">3</text>
<text transform="translate(1186.3,603.8) scale(0.4936,0.5714)" font-size="100">12A</text>
<text transform="translate(654.9,850) scale(0.4416,0.5714)" font-size="100">12B</text>
<text transform="translate(1734.3,896.9) scale(0.4503,0.5775)" font-size="100">10B</text>
<text transform="translate(1248.3,1081.2) scale(0.4936,0.5634)" font-size="100">12C</text>
<text transform="translate(721.6,1184.9) scale(0.5400,0.5714)" font-size="100">5</text>
<text transform="translate(1120.1,1428.2) scale(0.5408,0.5634)" font-size="100">6</text>
<text transform="translate(1674.7,1540.9) scale(0.5300,0.5634)" font-size="100">8</text>
<text transform="translate(1722.3,1878.4) scale(0.4879,0.5634)" font-size="100">16A</text>
<text transform="translate(1525.4,1973.2) scale(0.4773,0.5634)" font-size="100">16</text>
<text transform="translate(130.3,1776.2) scale(0.4851,0.5714)" font-size="100">14A</text>
<text transform="translate(446.4,1854.2) scale(0.4775,0.5634)" font-size="100">18</text>
<text transform="translate(544,2189.7) scale(0.4503,0.5634)" font-size="100">16B</text>
<text transform="translate(354,2242.8) scale(0.4503,0.5797)" font-size="100">14B</text>
<text transform="translate(874.3,2166.2) scale(0.6042,0.5714)" font-size="100">7</text>
</g>
<g id="leaders">
<path class="m" d="M765,325 C740,322 722,322 717,345 C712,380 705,395 680,416"/>
<path class="m" d="M1295,365 C1270,378 1245,382 1218,380 C1195,380 1182,410 1174,439"/>
<path class="m" d="M1174,585 C1140,590 1108,605 1100,635 C1095,650 1093,662 1093,675"/>
<path class="m" d="M748,834 C765,838 775,842 782,850 C790,860 792,872 800,882 C808,892 820,898 829,904"/>
<path class="m" d="M1723.75,877 C1708,873.5 1693,872 1684,874 C1677,876.5 1675.5,884 1674.5,892 C1672,915 1669,930 1664,942 C1658,953 1650,959 1640,967.5"/>
<path class="m" d="M1237.5,1060.5 C1215,1057 1200,1056 1192,1066 C1184,1076 1177,1083 1167.5,1090.5"/>
<path class="m" d="M762,1166 L795,1166 C815,1166 825,1178 845,1180 C865,1182 880,1176 896,1173"/>
<path class="m" d="M1108.75,1406 C1090,1403 1075,1400 1067,1394 C1052,1382 1060,1360 1070,1332.5"/>
<path class="m" d="M1667.5,1522 C1645,1524 1625,1528 1617,1540 C1607,1555 1617,1580 1621.5,1598"/>
<path class="m" d="M1718.75,1858.75 C1700,1862 1685,1862 1675,1852 C1660,1838 1660,1805 1645,1792 C1630,1780 1600,1785 1556,1790"/>
<path class="m" d="M1522.5,1953.75 C1500,1953 1475,1958 1458,1950 C1435,1940 1430,1915 1430,1890 C1432,1860 1442,1830 1447.5,1800"/>
<path class="m" d="M129,1755.5 C105,1754 85,1758 80,1774 C72,1800 80,1835 95,1859 C105,1875 115,1885 127.5,1894"/>
<path class="m" d="M442.5,1831.5 C420,1830 400,1835 393,1853 C385,1875 385,1890 370,1905 C355,1918 335,1930 312.5,1941.5"/>
<path class="m" d="M542.5,2169 C515,2168 495,2173 475,2170 C445,2165 420,2135 397.5,2109"/>
<path class="m" d="M352.5,2223 C325,2222 300,2230 282,2222 C262,2212 260,2190 262,2170 C265,2140 275,2120 282.5,2094"/>
<path class="m" d="M867.5,2148.75 C850,2146 838,2144 825,2145 C815,2147 810,2151 805,2155 C797,2161 790,2166 782.5,2170 C777,2172 772,2172 767.5,2170 C760,2166 755,2161 750,2155 C744,2147 741,2140 737.5,2130 C734,2121 732,2113 730,2105"/>
</g>
</svg>
</body>
</html>
